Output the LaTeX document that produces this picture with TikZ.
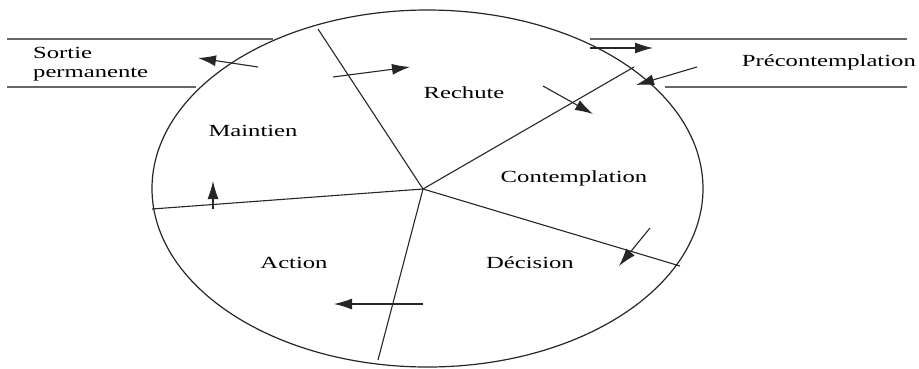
\documentclass[tikz,border=0pt]{standalone}
\usepackage{fontspec}
\setmainfont{Liberation Serif}
\usetikzlibrary{arrows.meta}
\begin{document}
\begin{tikzpicture}[x=1pt,y=-1pt,
  rim/.style={draw=black!85,line width=1.2pt},
  spoke/.style={draw=black!85,line width=1.1pt},
  band/.style={draw=black!60,line width=1.1pt},
  flow/.style={draw=black!85,line width=1.1pt,-{Latex[length=18pt,width=11pt]}},
  stage/.style={inner sep=0pt,font=\fontsize{17}{20}\selectfont},
]
\useasboundingbox (0,0) rectangle (919,368);

% wheel of change
\coordinate (hub) at (423,189);
\draw[rim] (427.5,188.5) ellipse [x radius=275.5pt, y radius=178.5pt];
\coordinate (sTop) at (318,29);
\coordinate (sUR) at (634,67);
\coordinate (sR) at (680,266);
\coordinate (sB) at (378,360);
\coordinate (sL) at (152,209);
\foreach \e in {sTop,sUR,sR,sB,sL} \draw[spoke] (hub) -- (\e);

% exit and entry bands
\draw[band] (7,39) -- (273,39);
\draw[band] (7,87) -- (196,87);
\draw[band] (590,39) -- (907,39);
\draw[band] (665,87) -- (907,87);

% stage labels
\node[stage] (rechute) at (464,93) {\scalebox{1.45}[1]{Rechute}};
\node[stage] (maintien) at (253,131) {\scalebox{1.45}[1]{Maintien}};
\node[stage] (contemplation) at (574,178) {\scalebox{1.45}[1]{Contemplation}};
\node[stage] (decision) at (530,263) {\scalebox{1.45}[1]{Décision}};
\node[stage] (action) at (294,263) {\scalebox{1.45}[1]{Action}};
\node[stage,anchor=west] (sortie) at (33,53) {\scalebox{1.45}[1]{Sortie}};
\node[stage,anchor=west] (permanente) at (33,75) {\scalebox{1.45}[1]{permanente}};
\node[stage,anchor=east] (precontemplation) at (916,62) {\scalebox{1.45}[1]{Précontemplation}};

% transitions
\coordinate (a1s) at (258,67);   \coordinate (a1e) at (198,58);
\coordinate (a2s) at (333,77);   \coordinate (a2e) at (410,67);
\coordinate (a3s) at (590,48);   \coordinate (a3e) at (653,48);
\coordinate (a4s) at (697,67);   \coordinate (a4e) at (636,85);
\coordinate (a5s) at (543,86);   \coordinate (a5e) at (593,114);
\coordinate (a6s) at (650,228);  \coordinate (a6e) at (619,266);
\coordinate (a7s) at (423,304);  \coordinate (a7e) at (334,304);
\coordinate (a8s) at (213,209);  \coordinate (a8e) at (213,181);
\foreach \i in {1,...,8} \draw[flow] (a\i s) -- (a\i e);
\end{tikzpicture}
\end{document}
